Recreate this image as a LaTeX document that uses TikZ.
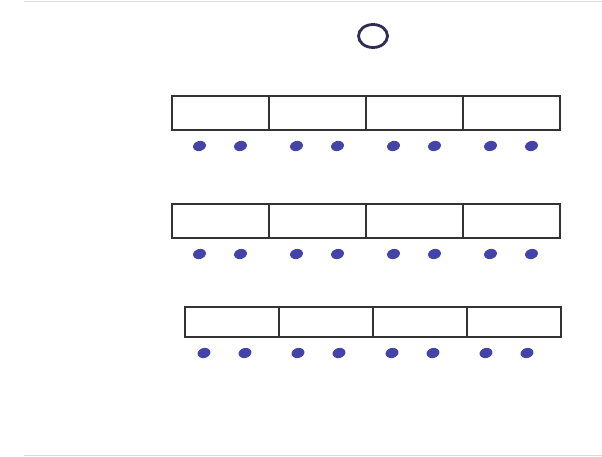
\documentclass[tikz,border=0pt]{standalone}
\usepackage{tikz}
\usetikzlibrary{positioning,shapes.geometric}
\definecolor{ink}{HTML}{333333}
\definecolor{bead}{HTML}{4343A8}
\definecolor{ring}{HTML}{2E2E55}
\definecolor{rule}{HTML}{DDDDDD}

\begin{document}
\begin{tikzpicture}[x=1pt,y=-1pt,
  node distance=0pt,
  cell/.style={draw=ink,line width=1.5pt,minimum width=97pt,
    minimum height=34pt,inner sep=0pt,outer sep=0pt},
  cellb/.style={cell,minimum width=94pt,minimum height=30pt},
  dot/.style={ellipse,fill=bead,minimum width=13pt,minimum height=10pt,
    inner sep=0pt,rotate=15}]
\useasboundingbox (0,0) rectangle (602,456);
\draw[rule,line width=1pt] (24,1) -- (602,1);
\draw[rule,line width=1pt] (24,455) -- (602,455);
\node[draw=ring,line width=2.8pt,ellipse,minimum width=29pt,
  minimum height=23pt] (zero) at (373,36) {};
% rows of cells
\node[cell,anchor=north west] (a1) at (172,96) {};
\node[cell,right=of a1] (a2) {};
\node[cell,right=of a2] (a3) {};
\node[cell,right=of a3] (a4) {};
\node[cell,anchor=north west] (b1) at (172,204) {};
\node[cell,right=of b1] (b2) {};
\node[cell,right=of b2] (b3) {};
\node[cell,right=of b3] (b4) {};
\node[cellb,anchor=north west] (c1) at (185,307) {};
\node[cellb,right=of c1] (c2) {};
\node[cellb,right=of c2] (c3) {};
\node[cellb,right=of c3] (c4) {};
% beads, two under each cell
\foreach \r/\s in {a/0,b/0,c/-7}
  \foreach \c in {1,...,4} {
    \node[dot] (\r\c l) at ([xshift=-21pt+\s pt,yshift=-16pt]\r\c.south) {};
    \node[dot] (\r\c r) at ([xshift=20pt+\s pt,yshift=-16pt]\r\c.south) {};
  }
\end{tikzpicture}
\end{document}
